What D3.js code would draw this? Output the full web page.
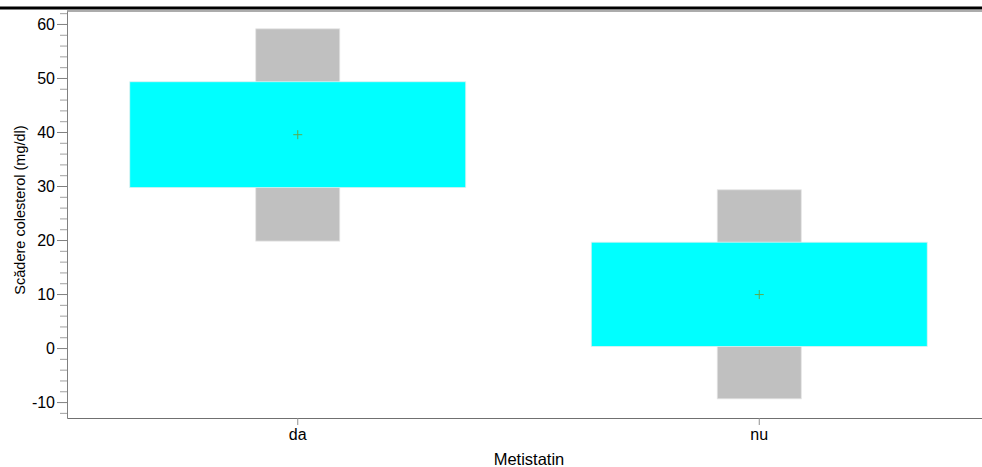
<!DOCTYPE html>
<html>
<head>
<meta charset="utf-8">
<script src="https://cdn.jsdelivr.net/npm/d3@7"></script>
<style>
  body { margin: 0; background: #fff; }
  text { font-family: "Liberation Sans", Arial, sans-serif; fill: #000; }
</style>
</head>
<body>
<div id="chart"></div>
<script>
// data
var groups = ["da", "nu"];
var means = [39.5, 9.9];
var innerLow = [29.7, 0.3];   // cyan box
var innerHigh = [49.3, 19.6];
var outerLow = [19.8, -9.4];  // gray box
var outerHigh = [59.1, 29.3];
var yTicks = [-10, 0, 10, 20, 30, 40, 50, 60];

var W = 982, H = 467;
var margin = { top: 11, right: -8, bottom: 49, left: 67 },
	width = W - margin.left - margin.right,
	height = H - margin.top - margin.bottom;

var svg = d3.select("#chart")
	.append("svg")
	.attr("width", W)
	.attr("height", H);

// heavy rule at the top of the page
svg.append("rect")
	.attr("x", 0).attr("y", 6.5)
	.attr("width", W).attr("height", 3)
	.attr("fill", "#000");

var g = svg.append("g")
	.attr("transform", "translate(" + margin.left + "," + margin.top + ")");

var x = d3.scaleBand()
	.domain(groups)
	.range([0, width]);

var y = d3.scaleLinear()
	.domain([-12.95, 62.4])
	.range([height, 0]);

var data = groups.map(function (d, i) {
	return { name: d, mean: means[i], lo: innerLow[i], hi: innerHigh[i], olo: outerLow[i], ohi: outerHigh[i] };
});

var innerHalf = 168, outerHalf = 42;

// gray boxes
g.selectAll("rect.outer")
	.data(data)
	.enter()
	.append("rect")
	.attr("class", "outer")
	.attr("x", function (d) { return x(d.name) + x.bandwidth() / 2 - outerHalf; })
	.attr("width", outerHalf * 2)
	.attr("y", function (d) { return y(d.ohi); })
	.attr("height", function (d) { return y(d.olo) - y(d.ohi); })
	.attr("fill", "#c0c0c0")
	.attr("stroke", "#e4e4e4")
	.attr("stroke-width", 0.8);

// cyan boxes
g.selectAll("rect.inner")
	.data(data)
	.enter()
	.append("rect")
	.attr("class", "inner")
	.attr("x", function (d) { return x(d.name) + x.bandwidth() / 2 - innerHalf; })
	.attr("width", innerHalf * 2)
	.attr("y", function (d) { return y(d.hi); })
	.attr("height", function (d) { return y(d.lo) - y(d.hi); })
	.attr("fill", "#00ffff")
	.attr("stroke", "#e0f0f0")
	.attr("stroke-width", 0.8);

// mean crosses
var cross = g.selectAll("g.mean")
	.data(data)
	.enter()
	.append("g")
	.attr("class", "mean")
	.attr("transform", function (d) {
		return "translate(" + (x(d.name) + x.bandwidth() / 2) + "," + y(d.mean) + ")";
	});
cross.append("line").attr("x1", -4.5).attr("x2", 4.5).attr("stroke", "#5aaa50").attr("stroke-width", 1);
cross.append("line").attr("y1", -4.5).attr("y2", 4.5).attr("stroke", "#5aaa50").attr("stroke-width", 1);

// top border of plot
g.append("line")
	.attr("x1", 0).attr("x2", W - margin.left)
	.attr("y1", 0).attr("y2", 0)
	.attr("stroke", "#909090")
	.attr("stroke-width", 1.5);

// y axis: minor ticks every 2
var minor = d3.range(-12, 63, 2).filter(function (v) { return v % 10 !== 0; });
var yMinor = g.append("g")
	.call(d3.axisLeft(y).tickValues(minor).tickSize(7).tickFormat(""));
yMinor.select(".domain").remove();
yMinor.selectAll("line").attr("stroke", "#a0a0a0");

var yAxis = g.append("g")
	.call(d3.axisLeft(y).tickValues(yTicks).tickSize(10).tickPadding(2)
		.tickSizeOuter(0).tickFormat(function (d) { return String(d); }));
yAxis.select(".domain").attr("stroke", "#808080");
yAxis.selectAll("line").attr("stroke", "#808080");
yAxis.selectAll("text").style("font-size", "16px");

// x axis
var xAxis = g.append("g")
	.attr("transform", "translate(0," + height + ")")
	.call(d3.axisBottom(x).tickSize(7).tickPadding(4).tickSizeOuter(0));
xAxis.select(".domain").attr("stroke", "#707070");
xAxis.selectAll("line").attr("stroke", "#909090");
xAxis.selectAll("text").style("font-size", "16px");

// axis titles
svg.append("text")
	.attr("x", 529)
	.attr("y", 465)
	.attr("text-anchor", "middle")
	.style("font-size", "16.5px")
	.text("Metistatin");

svg.append("text")
	.attr("transform", "translate(25,210)rotate(-90)")
	.attr("text-anchor", "middle")
	.style("font-size", "14.5px")
	.text("Scădere colesterol (mg/dl)");
</script>
</body>
</html>
